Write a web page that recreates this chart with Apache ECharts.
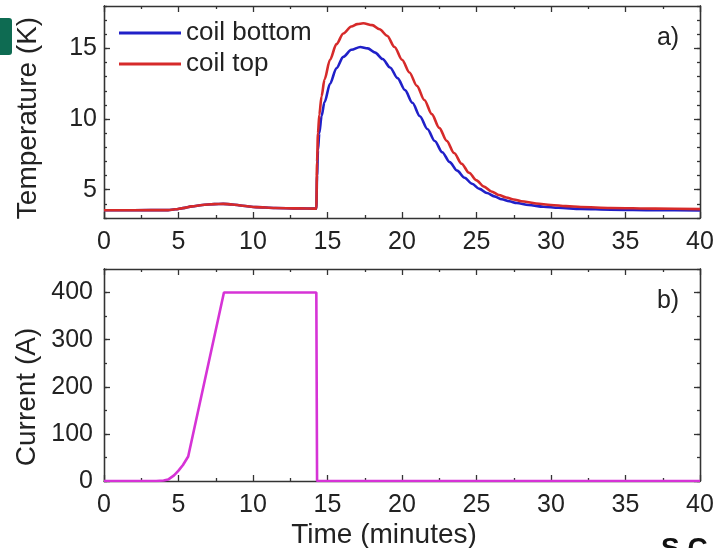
<!DOCTYPE html>
<html>
<head>
<meta charset="utf-8">
<script src="https://cdn.jsdelivr.net/npm/echarts@6/dist/echarts.min.js"></script>
<style>
  html, body { margin: 0; padding: 0; background: #ffffff; }
  #chart { width: 722px; height: 548px; }
</style>
</head>
<body>
<div id="chart"></div>
<script>
// Time axis ticks (minutes)
const timeTicks = [0, 5, 10, 15, 20, 25, 30, 35, 40];
const tempTicks = [5, 10, 15];
const currentTicks = [0, 100, 200, 300, 400];

// Coil temperatures (K) vs time (minutes)
const coilBottom = [
  [0, 3.55], [2, 3.55], [4.3, 3.56], [4.8, 3.62], [5.3, 3.7], [5.9, 3.82], [6.6, 3.92],
  [7.4, 3.98], [8.0, 4.0], [8.6, 3.96], [9.3, 3.87], [10.2, 3.77], [11.5, 3.71],
  [13, 3.68], [14.25, 3.66], [14.3, 6.0], [14.36, 7.8], [14.45, 9.0], [14.6, 10.2],
  [14.8, 11.2], [15.17, 12.5], [15.6, 13.6], [16.06, 14.4], [16.6, 14.9], [17.2, 15.1],
  [17.7, 15.0], [18.2, 14.7], [18.7, 14.25], [19.2, 13.65], [19.7, 12.9], [20.2, 12.05],
  [20.7, 11.15], [21.2, 10.2], [21.7, 9.3], [22.2, 8.45], [22.7, 7.65], [23.2, 6.95],
  [23.7, 6.35], [24.2, 5.85], [24.7, 5.42], [25.2, 5.06], [25.7, 4.77], [26.2, 4.53],
  [26.7, 4.33], [27.2, 4.18], [27.7, 4.06], [28.5, 3.92], [29.5, 3.8], [30.5, 3.72],
  [32, 3.64], [34, 3.59], [37, 3.55], [40, 3.53]
];
const coilTop = [
  [0, 3.55], [2, 3.55], [4.3, 3.56], [4.8, 3.62], [5.3, 3.7], [5.9, 3.82], [6.6, 3.92],
  [7.4, 3.98], [8.0, 4.0], [8.6, 3.96], [9.3, 3.87], [10.2, 3.77], [11.5, 3.71],
  [13, 3.68], [14.25, 3.66], [14.3, 7.0], [14.36, 9.0], [14.45, 10.3], [14.6, 11.6],
  [14.8, 12.8], [15.17, 14.2], [15.6, 15.3], [16.06, 16.05], [16.6, 16.55], [17.0, 16.72],
  [17.4, 16.78], [18.0, 16.65], [18.5, 16.35], [19.0, 15.9], [19.5, 15.1], [20.0, 14.2],
  [20.5, 13.3], [21.0, 12.35], [21.5, 11.35], [22.0, 10.35], [22.5, 9.38], [23.0, 8.46],
  [23.5, 7.6], [24.0, 6.84], [24.5, 6.2], [25.0, 5.66], [25.5, 5.22], [26.0, 4.88],
  [26.5, 4.63], [27.0, 4.45], [27.5, 4.31], [28.0, 4.19], [29.0, 4.03], [30.0, 3.92],
  [31, 3.84], [32, 3.78], [34, 3.71], [37, 3.66], [40, 3.63]
];

// Magnet current (A) vs time (minutes)
const current = [
  [0, 0], [3.5, 0], [4.0, 1], [4.3, 3], [4.7, 12], [5.0, 22], [5.3, 34], [5.65, 52],
  [8.05, 400], [14.25, 400], [14.3, 0], [40, 0]
];

const ink = '#222222';
const frame = '#333333';
const font = 'Liberation Sans, Arial, sans-serif';
const tickFont = 25;
const titleFont = 28;

function xAxis(grid, pos, labels) {
  return {
    type: 'value', gridIndex: grid, position: pos, min: 0, max: 40, interval: 5,
    axisLine: { show: true, onZero: false, lineStyle: { color: frame, width: 1.3 } },
    axisTick: { show: true, inside: true, length: 6, lineStyle: { color: frame, width: 1.3 } },
    minorTick: { show: true, splitNumber: 2, length: 3, lineStyle: { color: frame, width: 1.3 } },
    axisLabel: labels ? { show: true, color: ink, fontSize: tickFont, fontFamily: font, margin: 12,
                          customValues: timeTicks } : { show: false },
    splitLine: { show: false }
  };
}

function yMinor(grid, pos, min, max, step) {
  return {
    type: 'value', gridIndex: grid, position: pos, min: min, max: max, interval: step,
    axisLine: { show: true, onZero: false, lineStyle: { color: frame, width: 1.3 } },
    axisTick: { show: true, inside: true, length: 3, lineStyle: { color: frame, width: 1.3 } },
    axisLabel: { show: false },
    splitLine: { show: false }
  };
}

function yMajor(grid, pos, min, max, ticks, labelMargin) {
  return {
    type: 'value', gridIndex: grid, position: pos, min: min, max: max,
    axisLine: { show: true, onZero: false, lineStyle: { color: frame, width: 1.3 } },
    axisTick: { show: true, inside: true, length: 6, customValues: ticks,
                lineStyle: { color: frame, width: 1.3 } },
    axisLabel: labelMargin != null ? { show: true, color: ink, fontSize: tickFont, fontFamily: font,
                                       margin: labelMargin, customValues: ticks } : { show: false },
    splitLine: { show: false }
  };
}

const chart = echarts.init(document.getElementById('chart'), null, { renderer: 'canvas' });

chart.setOption({
  animation: false,
  backgroundColor: '#ffffff',
  grid: [
    { left: 104, top: 6, width: 596, height: 212 },
    { left: 104, top: 269, width: 596, height: 212 }
  ],
  xAxis: [
    xAxis(0, 'bottom', true),
    xAxis(0, 'top', false),
    xAxis(1, 'bottom', true),
    xAxis(1, 'top', false)
  ],
  yAxis: [
    yMinor(0, 'left', 3, 18, 1),
    yMajor(0, 'left', 3, 18, tempTicks, 7),
    yMinor(0, 'right', 3, 18, 1),
    yMajor(0, 'right', 3, 18, tempTicks, null),
    yMinor(1, 'left', 0, 450, 50),
    yMajor(1, 'left', 0, 450, currentTicks, 11),
    yMinor(1, 'right', 0, 450, 50),
    yMajor(1, 'right', 0, 450, currentTicks, null)
  ],
  legend: {
    data: ['coil bottom', 'coil top'],
    orient: 'vertical', left: 119, top: 20, padding: 0,
    itemWidth: 62, itemHeight: 3, itemGap: 5, icon: 'rect',
    textStyle: { color: ink, fontSize: 26, fontFamily: font }
  },
  series: [
    { name: 'coil bottom', type: 'line', xAxisIndex: 0, yAxisIndex: 1, data: coilBottom,
      showSymbol: false, symbol: 'none', smooth: 0.3, smoothMonotone: 'x',
      lineStyle: { color: '#2020c8', width: 2.6 }, itemStyle: { color: '#2020c8' } },
    { name: 'coil top', type: 'line', xAxisIndex: 0, yAxisIndex: 1, data: coilTop,
      showSymbol: false, symbol: 'none', smooth: 0.3, smoothMonotone: 'x',
      lineStyle: { color: '#d62a2a', width: 2.6 }, itemStyle: { color: '#d62a2a' } },
    { name: 'current', type: 'line', xAxisIndex: 2, yAxisIndex: 5, data: current,
      showSymbol: false, symbol: 'none',
      lineStyle: { color: '#d633d6', width: 2.6 }, itemStyle: { color: '#d633d6' } }
  ],
  graphic: [
    { type: 'text', x: 28, y: 118, rotation: Math.PI / 2,
      style: { text: 'Temperature (K)', fill: ink, fontSize: titleFont, fontFamily: font,
               align: 'center', verticalAlign: 'middle' } },
    { type: 'text', x: 27, y: 397, rotation: Math.PI / 2,
      style: { text: 'Current (A)', fill: ink, fontSize: titleFont, fontFamily: font,
               align: 'center', verticalAlign: 'middle' } },
    { type: 'text', x: 384, y: 535,
      style: { text: 'Time (minutes)', fill: ink, fontSize: titleFont, fontFamily: font,
               align: 'center', verticalAlign: 'middle' } },
    { type: 'text', x: 668, y: 38,
      style: { text: 'a)', fill: ink, fontSize: tickFont, fontFamily: font,
               align: 'center', verticalAlign: 'middle' } },
    { type: 'text', x: 668, y: 301,
      style: { text: 'b)', fill: ink, fontSize: tickFont, fontFamily: font,
               align: 'center', verticalAlign: 'middle' } },
    { type: 'text', x: 661, y: 535,
      style: { text: 'S.C.', fill: '#111111', fontSize: 28, fontWeight: 'bold', fontFamily: font,
               align: 'left', verticalAlign: 'top' } },
    { type: 'rect', shape: { x: -12, y: 18, width: 24, height: 37, r: 3 },
      style: { fill: '#0e6b52' } }
  ]
});
</script>
</body>
</html>
